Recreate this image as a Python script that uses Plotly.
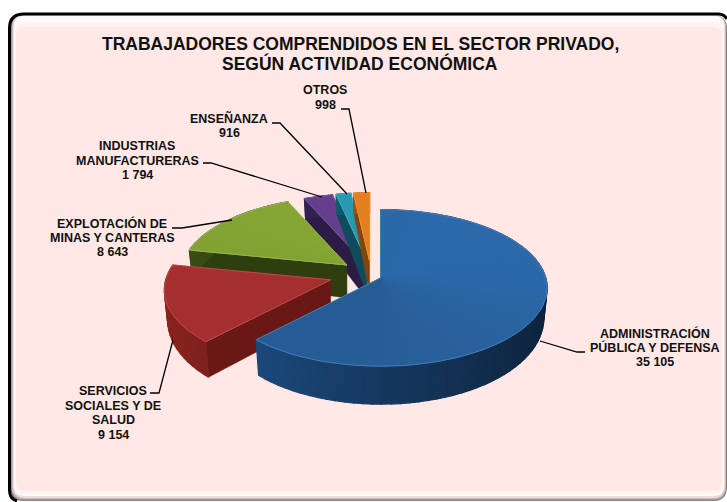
import math
import plotly.graph_objects as go

# datos de la grafica
categorias = [["ADMINISTRACIÓN", "PÚBLICA Y DEFENSA"], ["SERVICIOS", "SOCIALES Y DE", "SALUD"],
              ["EXPLOTACIÓN DE", "MINAS Y CANTERAS"], ["INDUSTRIAS", "MANUFACTURERAS"], ["ENSEÑANZA"], ["OTROS"]]
valores = [35105, 9154, 8643, 1794, 916, 998]
etiquetas_valor = ["35 105", "9 154", "8 643", "1 794", "916", "998"]
titulo = ["TRABAJADORES COMPRENDIDOS EN EL SECTOR PRIVADO,", "SEGÚN ACTIVIDAD ECONÓMICA"]

color_top = ["#2C6AAB", "#AE3232", "#88AA36", "#65408F", "#2A9BB5", "#E5801F"]
color_rim = ["#1E4F86", "#8A2420", "#3A4C12", "#33214F", "#12596A", "#9A5512"]
color_wall = ["#16375F", "#6A1815", "#2F3E0E", "#2C1C45", "#0E4C5C", "#80460E"]
sombra = [0.14, 0.06, 0.06, 0.06, 0.06, 0.06]

# geometria del pastel en pixeles
cx, cy = 358, 272
rx, ry = 165, 77
persp = 0.128
pull_x, pull_y = 24.5, 16
extra_x = [0, -4, 8, 13, 13, 13]
extra_y = [0, 3, 3, 5, 5, 5]
draw_order = [3, 4, 5, 2, 1, 0]


def mezcla(c1, c2, t):
    a = [int(c1[i:i + 2], 16) for i in (1, 3, 5)]
    b = [int(c2[i:i + 2], 16) for i in (1, 3, 5)]
    return "#%02x%02x%02x" % tuple(round(a[i] + (b[i] - a[i]) * t) for i in range(3))


def borde(ax, ay, th, bajo=False):
    # punto del borde de una rebanada, arriba o abajo
    s, c = math.sin(th), math.cos(th)
    esc = 1 / (1 + persp * c)
    if bajo:
        return ax + 0.98 * rx * s * esc, ay - ry * c * esc + 29 - 9 * c
    return ax + rx * s * esc, ay - ry * c * esc


def poligono(fig, xs, ys, color, ancho=1.2):
    fig.add_trace(go.Scatter(x=xs, y=ys, mode="lines", fill="toself", fillcolor=color,
                             line=dict(color=color, width=ancho),
                             hoverinfo="skip", showlegend=False))


fig = go.Figure()

total = sum(valores)
rebanadas = []
ang = 0
for i, v in enumerate(valores):
    a0 = ang
    ang += v / total * 2 * math.pi
    med = (a0 + ang) / 2
    rebanadas.append((a0, ang, cx + pull_x * math.sin(med) + extra_x[i], cy - pull_y * math.cos(med) + extra_y[i]))

for i in draw_order:
    a0, a1, ax, ay = rebanadas[i]
    n = max(6, int((a1 - a0) / 0.05))
    angs = [a0 + (a1 - a0) * k / n for k in range(n + 1)]

    # cara lateral que mira al frente
    x0, y0 = borde(ax, ay, a0)
    x1, y1 = borde(ax, ay, a0, True)
    poligono(fig, [ax, x0, x1, ax, ax], [ay, y0, y1, ay + 33, ay], color_wall[i], 0.5)

    # canto exterior, por tiras para el degradado
    for k in range(n):
        t0, t1 = angs[k], angs[k + 1]
        p = [borde(ax, ay, t0), borde(ax, ay, t1), borde(ax, ay, t1, True), borde(ax, ay, t0, True)]
        luz = (math.sin(t0) + 1) / 2
        color = mezcla(color_rim[i], "#000000", 0.55 * luz) if i < 2 else color_rim[i]
        poligono(fig, [q[0] for q in p] + [p[0][0]], [q[1] for q in p] + [p[0][1]], color)

    # cara superior: primero la base lisa, luego el degradado
    pts = [borde(ax, ay, t) for t in angs]
    poligono(fig, [ax] + [q[0] for q in pts] + [ax], [ay] + [q[1] for q in pts] + [ay], color_top[i], 0.5)
    for k in range(n):
        t0 = angs[k]
        p0, p1 = pts[k], pts[k + 1]
        luz = (math.cos(t0 - 0.8) + 1) / 2
        color = mezcla(color_top[i], "#000000", sombra[i] * (1 - luz))
        fig.add_trace(go.Scatter(x=[ax, p0[0], p1[0], ax], y=[ay, p0[1], p1[1], ay], mode="none", fill="toself",
                                 fillcolor=color, hoverinfo="skip", showlegend=False))
    # segunda pasada para tapar las juntas
    for k in range(n):
        t0 = angs[k]
        p0 = pts[k]
        luz = (math.cos(t0 - 0.8) + 1) / 2
        color = mezcla(color_top[i], "#000000", sombra[i] * (1 - luz))
        fig.add_trace(go.Scatter(x=[ax, p0[0]], y=[ay, p0[1]], mode="lines", line=dict(color=color, width=1),
                                 hoverinfo="skip", showlegend=False))

    # brillo del filo
    fig.add_trace(go.Scatter(x=[ax] + [q[0] for q in pts] + [ax], y=[ay] + [q[1] for q in pts] + [ay],
                             mode="lines", line=dict(color=mezcla(color_top[i], "#FFFFFF", 0.12), width=1),
                             hoverinfo="skip", showlegend=False))


# marco redondeado con bisel
def caja(x0, y0, x1, y1, r):
    return (f"M{x0 + r},{y0} L{x1 - r},{y0} Q{x1},{y0} {x1},{y0 + r} L{x1},{y1 - r} Q{x1},{y1} {x1 - r},{y1} "
            f"L{x0 + r},{y1} Q{x0},{y1} {x0},{y1 - r} L{x0},{y0 + r} Q{x0},{y0} {x0 + r},{y0} Z")


shapes = [
    dict(type="path", path=caja(10, 15, 727, 501, 14), fillcolor="#8F7F7F", line_width=0, layer="below"),
    dict(type="path", path=caja(11.5, 15, 726, 499.5, 13), fillcolor="#C9B7B7", line_width=0, layer="below"),
    dict(type="path", path=caja(13, 15, 725, 498, 12), fillcolor="#EEDFDD", line_width=0, layer="below"),
    dict(type="path", path=caja(14, 16, 724, 496, 11), fillcolor="#FFFBFA", line_width=0, layer="below"),
    dict(type="path", path=caja(15, 22, 723, 494, 10), fillcolor="#FFF2F0", line_width=0, layer="below"),
    dict(type="path", path=caja(16, 27, 722, 491, 9), fillcolor="#FFE8E5", line_width=0, layer="below"),
    dict(type="path", path="M17,501 Q9.5,499 9.5,490 L9.5,28 Q9.5,14 24,14 L718,14 Q724,14 727,19",
         line=dict(color="#000000", width=3), layer="below"),
]

# lineas guia de las etiquetas
guias = [
    "M585,352 L577,352 L540,341",
    "M150,393 L159,393 L173,340",
    "M172,228 L182,228 L232,220",
    "M203,163 L211,163 L322,197",
    "M272,123 L280,123 L347,194",
    "M341,109 L349,109 L366,193",
]
for g in guias:
    shapes.append(dict(type="path", path=g, line=dict(color="#000000", width=1.3), layer="above"))

pos_etiquetas = [(655, 333), (113, 391), (112, 223), (137, 146), (229, 118), (325, 90)]
anotaciones = []
for nombre, val, (x, y) in zip(categorias, etiquetas_valor, pos_etiquetas):
    for k, linea in enumerate(nombre + [val]):
        anotaciones.append(dict(x=x, y=y + 14.5 * k, xref="x", yref="y", text=f"<b>{linea}</b>", showarrow=False,
                                font=dict(family="Liberation Sans", size=12.5, color="#111111")))
for k, linea in enumerate(titulo):
    anotaciones.append(dict(x=360, y=44 + 19 * k, xref="x", yref="y", showarrow=False, text=f"<b>{linea}</b>",
                            font=dict(family="Liberation Sans", size=17.5, color="#111111")))

fig.update_layout(
    width=727, height=502, margin=dict(l=0, r=0, t=0, b=0),
    paper_bgcolor="#FFFFFF", plot_bgcolor="rgba(0,0,0,0)",
    xaxis=dict(range=[0, 727], visible=False, fixedrange=True),
    yaxis=dict(range=[502, 0], visible=False, fixedrange=True),
    shapes=shapes, annotations=anotaciones, showlegend=False,
)
fig.write_html("out.html", post_script="document.body.style.margin='0';", config={"displayModeBar": False})
